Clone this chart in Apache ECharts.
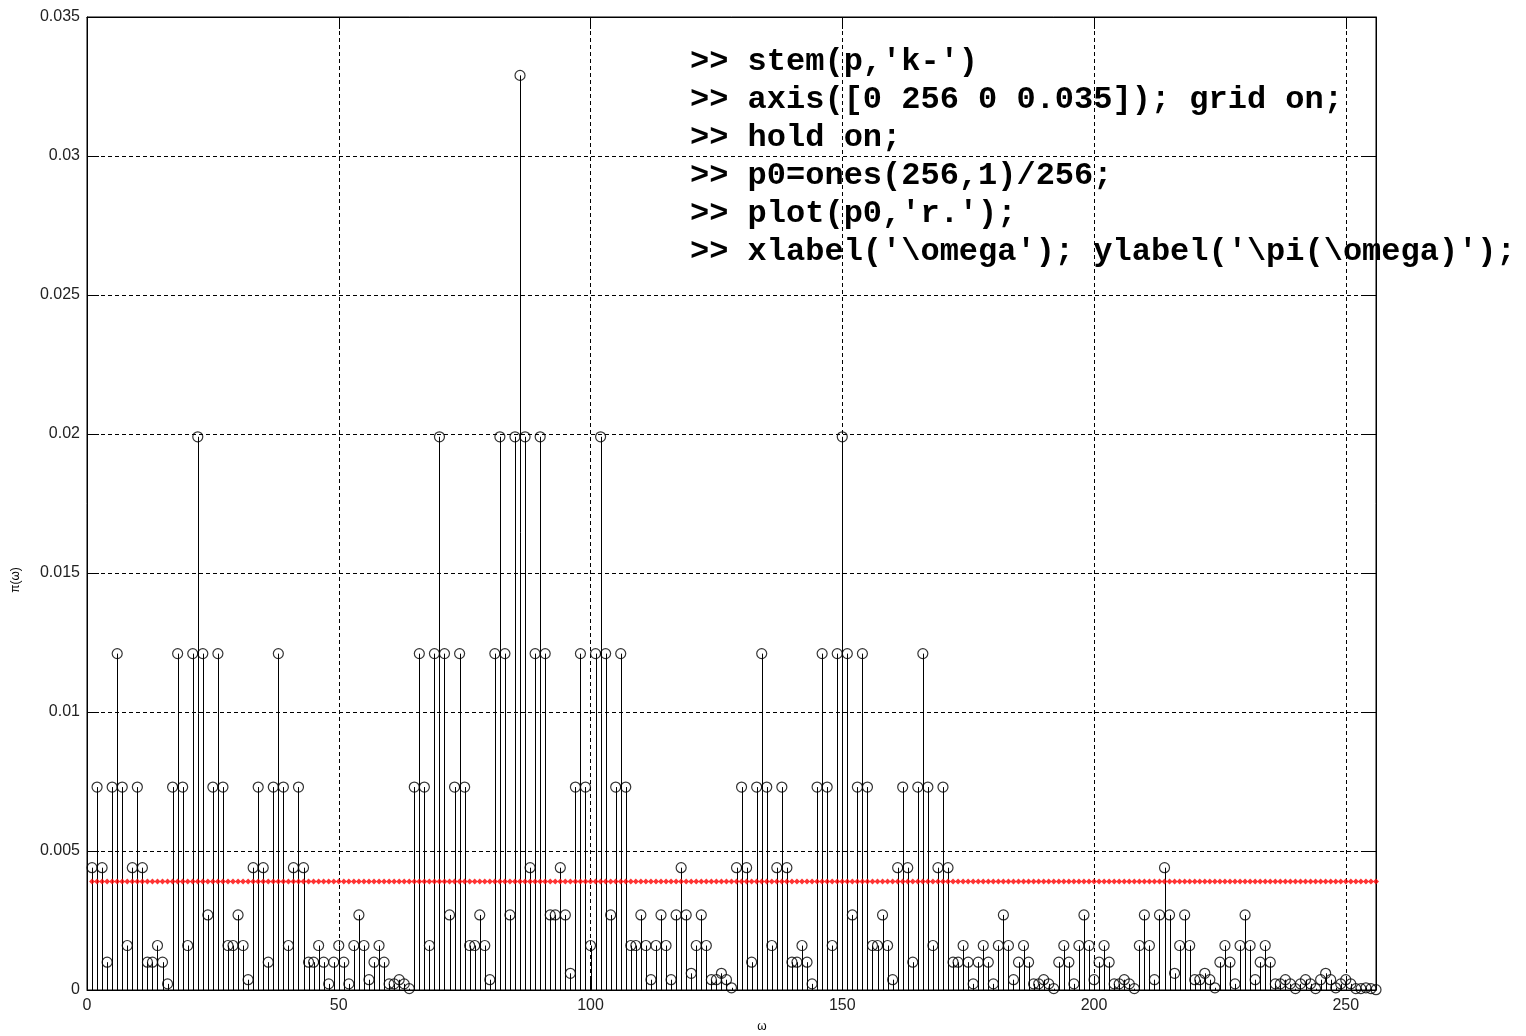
<!DOCTYPE html>
<html><head><meta charset="utf-8">
<script src="https://cdn.jsdelivr.net/npm/echarts@6/dist/echarts.min.js"></script>
<style>html,body{margin:0;padding:0;background:#fff}#c{width:1526px;height:1036px}</style>
</head><body><div id="c"></div>
<script>
// stationary distribution pi(omega), omega = 1..256
const p = [
0.0044,0.0073,0.0044,0.0010,0.0073,0.0121,0.0073,0.0016,0.0044,0.0073,0.0044,0.0010,0.0010,0.0016,0.0010,0.00022,
0.0073,0.0121,0.0073,0.0016,0.0121,0.0199,0.0121,0.0027,0.0073,0.0121,0.0073,0.0016,0.0016,0.0027,0.0016,0.00037,
0.0044,0.0073,0.0044,0.0010,0.0073,0.0121,0.0073,0.0016,0.0044,0.0073,0.0044,0.0010,0.0010,0.0016,0.0010,0.00022,
0.0010,0.0016,0.0010,0.00022,0.0016,0.0027,0.0016,0.00037,0.0010,0.0016,0.0010,0.00022,0.00022,0.00037,0.00022,0.00005,
0.0073,0.0121,0.0073,0.0016,0.0121,0.0199,0.0121,0.0027,0.0073,0.0121,0.0073,0.0016,0.0016,0.0027,0.0016,0.00037,
0.0121,0.0199,0.0121,0.0027,0.0199,0.0329,0.0199,0.0044,0.0121,0.0199,0.0121,0.0027,0.0027,0.0044,0.0027,0.0006,
0.0073,0.0121,0.0073,0.0016,0.0121,0.0199,0.0121,0.0027,0.0073,0.0121,0.0073,0.0016,0.0016,0.0027,0.0016,0.00037,
0.0016,0.0027,0.0016,0.00037,0.0027,0.0044,0.0027,0.0006,0.0016,0.0027,0.0016,0.00037,0.00037,0.0006,0.00037,0.00008,
0.0044,0.0073,0.0044,0.0010,0.0073,0.0121,0.0073,0.0016,0.0044,0.0073,0.0044,0.0010,0.0010,0.0016,0.0010,0.00022,
0.0073,0.0121,0.0073,0.0016,0.0121,0.0199,0.0121,0.0027,0.0073,0.0121,0.0073,0.0016,0.0016,0.0027,0.0016,0.00037,
0.0044,0.0073,0.0044,0.0010,0.0073,0.0121,0.0073,0.0016,0.0044,0.0073,0.0044,0.0010,0.0010,0.0016,0.0010,0.00022,
0.0010,0.0016,0.0010,0.00022,0.0016,0.0027,0.0016,0.00037,0.0010,0.0016,0.0010,0.00022,0.00022,0.00037,0.00022,0.00005,
0.0010,0.0016,0.0010,0.00022,0.0016,0.0027,0.0016,0.00037,0.0010,0.0016,0.0010,0.00022,0.00022,0.00037,0.00022,0.00005,
0.0016,0.0027,0.0016,0.00037,0.0027,0.0044,0.0027,0.0006,0.0016,0.0027,0.0016,0.00037,0.00037,0.0006,0.00037,0.00008,
0.0010,0.0016,0.0010,0.00022,0.0016,0.0027,0.0016,0.00037,0.0010,0.0016,0.0010,0.00022,0.00022,0.00037,0.00022,0.00005,
0.00022,0.00037,0.00022,0.00005,0.00037,0.0006,0.00037,0.00008,0.00022,0.00037,0.00022,0.00005,0.00005,0.00008,0.00005,0.00001
];
// uniform reference p0 = ones(256,1)/256
const p0 = [
0.0039,0.0039,0.0039,0.0039,0.0039,0.0039,0.0039,0.0039,0.0039,0.0039,0.0039,0.0039,0.0039,0.0039,0.0039,0.0039,
0.0039,0.0039,0.0039,0.0039,0.0039,0.0039,0.0039,0.0039,0.0039,0.0039,0.0039,0.0039,0.0039,0.0039,0.0039,0.0039,
0.0039,0.0039,0.0039,0.0039,0.0039,0.0039,0.0039,0.0039,0.0039,0.0039,0.0039,0.0039,0.0039,0.0039,0.0039,0.0039,
0.0039,0.0039,0.0039,0.0039,0.0039,0.0039,0.0039,0.0039,0.0039,0.0039,0.0039,0.0039,0.0039,0.0039,0.0039,0.0039,
0.0039,0.0039,0.0039,0.0039,0.0039,0.0039,0.0039,0.0039,0.0039,0.0039,0.0039,0.0039,0.0039,0.0039,0.0039,0.0039,
0.0039,0.0039,0.0039,0.0039,0.0039,0.0039,0.0039,0.0039,0.0039,0.0039,0.0039,0.0039,0.0039,0.0039,0.0039,0.0039,
0.0039,0.0039,0.0039,0.0039,0.0039,0.0039,0.0039,0.0039,0.0039,0.0039,0.0039,0.0039,0.0039,0.0039,0.0039,0.0039,
0.0039,0.0039,0.0039,0.0039,0.0039,0.0039,0.0039,0.0039,0.0039,0.0039,0.0039,0.0039,0.0039,0.0039,0.0039,0.0039,
0.0039,0.0039,0.0039,0.0039,0.0039,0.0039,0.0039,0.0039,0.0039,0.0039,0.0039,0.0039,0.0039,0.0039,0.0039,0.0039,
0.0039,0.0039,0.0039,0.0039,0.0039,0.0039,0.0039,0.0039,0.0039,0.0039,0.0039,0.0039,0.0039,0.0039,0.0039,0.0039,
0.0039,0.0039,0.0039,0.0039,0.0039,0.0039,0.0039,0.0039,0.0039,0.0039,0.0039,0.0039,0.0039,0.0039,0.0039,0.0039,
0.0039,0.0039,0.0039,0.0039,0.0039,0.0039,0.0039,0.0039,0.0039,0.0039,0.0039,0.0039,0.0039,0.0039,0.0039,0.0039,
0.0039,0.0039,0.0039,0.0039,0.0039,0.0039,0.0039,0.0039,0.0039,0.0039,0.0039,0.0039,0.0039,0.0039,0.0039,0.0039,
0.0039,0.0039,0.0039,0.0039,0.0039,0.0039,0.0039,0.0039,0.0039,0.0039,0.0039,0.0039,0.0039,0.0039,0.0039,0.0039,
0.0039,0.0039,0.0039,0.0039,0.0039,0.0039,0.0039,0.0039,0.0039,0.0039,0.0039,0.0039,0.0039,0.0039,0.0039,0.0039,
0.0039,0.0039,0.0039,0.0039,0.0039,0.0039,0.0039,0.0039,0.0039,0.0039,0.0039,0.0039,0.0039,0.0039,0.0039,0.0039
];
const xRange = [0, 256];
const xStep = 50;
const yRange = [0, 0.035];
const yStep = 0.005;
const xLabel = 'ω';
const yLabel = 'π(ω)';
const codeLines = [
  ">> stem(p,'k-')",
  ">> axis([0 256 0 0.035]); grid on;",
  ">> hold on;",
  ">> p0=ones(256,1)/256;",
  ">> plot(p0,'r.');",
  ">> xlabel('\\omega'); ylabel('\\pi(\\omega)');"
];

const chart = echarts.init(document.getElementById('c'), null, {renderer: 'canvas'});
const stemData = p.map((v, i) => [i + 1, v]);
const p0Data = p0.map((v, i) => [i + 1, v]);

const tickFont = {fontFamily: 'Liberation Sans, Arial, sans-serif', fontSize: 16, color: '#222'};
const splitDash = {show: true, lineStyle: {color: '#000', type: [4, 3], width: 1}};

const option = {
  animation: false,
  backgroundColor: '#fff',
  grid: {left: 87, right: 150, top: 17, bottom: 46, show: true, borderColor: '#000', borderWidth: 1, backgroundColor: 'transparent'},
  xAxis: [
    {type: 'value', position: 'bottom', min: xRange[0], max: xRange[1], interval: xStep,
     axisLine: {show: true, onZero: false, lineStyle: {color: '#000'}},
     axisTick: {show: true, inside: true, length: 12, lineStyle: {color: '#000'}},
     axisLabel: Object.assign({margin: 8, showMaxLabel: false}, tickFont),
     splitLine: splitDash},
    {type: 'value', position: 'top', min: xRange[0], max: xRange[1], interval: xStep,
     axisLine: {show: true, onZero: false, lineStyle: {color: '#000'}},
     axisTick: {show: true, inside: true, length: 12, lineStyle: {color: '#000'}},
     axisLabel: {show: false}, splitLine: {show: false}}
  ],
  yAxis: [
    {type: 'value', position: 'left', min: yRange[0], max: yRange[1], interval: yStep,
     axisLine: {show: true, onZero: false, lineStyle: {color: '#000'}},
     axisTick: {show: true, inside: true, length: 12, lineStyle: {color: '#000'}},
     axisLabel: Object.assign({margin: 7, formatter: v => v === 0 ? '0' : String(+v.toFixed(3))}, tickFont),
     splitLine: splitDash},
    {type: 'value', position: 'right', min: yRange[0], max: yRange[1], interval: yStep,
     axisLine: {show: true, onZero: false, lineStyle: {color: '#000'}},
     axisTick: {show: true, inside: true, length: 12, lineStyle: {color: '#000'}},
     axisLabel: {show: false}, splitLine: {show: false}}
  ],
  series: [
    {type: 'custom', name: 'stem', xAxisIndex: 0, yAxisIndex: 0, data: stemData, z: 3,
     renderItem: function (params, api) {
       const x = api.value(0), y = api.value(1);
       const top = api.coord([x, y]);
       const bot = api.coord([x, 0]);
       const px = Math.round(top[0]) + 0.5;
       return {type: 'line', shape: {x1: px, y1: top[1], x2: px, y2: bot[1]},
               style: {stroke: '#000', lineWidth: 1}};
     }},
    {type: 'scatter', name: 'markers', data: stemData, symbol: 'circle', symbolSize: 10, z: 4,
     itemStyle: {color: 'rgba(255,255,255,0)', borderColor: '#000', borderWidth: 1.2}},
    {type: 'scatter', name: 'p0', data: p0Data, symbol: 'diamond', symbolSize: 6, z: 5,
     itemStyle: {color: '#ff0000'}}
  ],
  graphic: [
    {type: 'text', x: 16, y: 580, rotation: Math.PI / 2, style: {text: yLabel, font: '12px Liberation Sans, Arial', fill: '#000', textAlign: 'center', textVerticalAlign: 'middle'}},
    {type: 'text', x: 762, y: 1027, style: {text: xLabel, font: '12px Liberation Sans, Arial', fill: '#000', textAlign: 'center', textVerticalAlign: 'middle'}}
  ].concat(codeLines.map((t, i) => ({
    type: 'text', x: 690, y: 62 + i * 38,
    style: {text: t, font: 'bold 32px Liberation Mono, Courier New, monospace', fill: '#000', textVerticalAlign: 'middle'}
  })))
};
chart.setOption(option);
</script>
</body></html>
